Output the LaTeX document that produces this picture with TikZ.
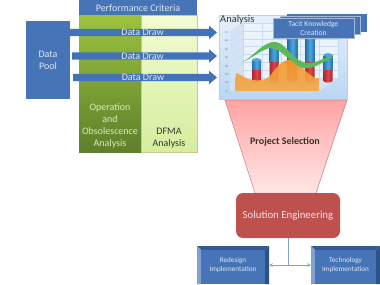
\documentclass[tikz,border=0pt]{standalone}
\usepackage{fontspec}
\setmainfont{Carlito}
\definecolor{panelblue}{HTML}{4674B6}
\definecolor{drawblue}{HTML}{4273B8}
\definecolor{ltxt}{HTML}{DDE7F5}
\definecolor{gridc}{HTML}{C9DAEE}
\definecolor{greenA}{HTML}{9CC23E}
\definecolor{greenB}{HTML}{5E7F2C}
\definecolor{limeA}{HTML}{F2FBD2}
\definecolor{limeB}{HTML}{D5EE9E}
\definecolor{limeE}{HTML}{BCCF8C}
\definecolor{opsT}{HTML}{DCEBBE}
\definecolor{panA}{HTML}{E6F0FA}
\definecolor{panB}{HTML}{BAD6F3}
\definecolor{wallA}{HTML}{D3E3F5}
\definecolor{wallB}{HTML}{EAF2FB}
\definecolor{cylA}{HTML}{2A6FA8}
\definecolor{cylB}{HTML}{4BA6DE}
\definecolor{redA}{HTML}{A82A30}
\definecolor{redB}{HTML}{E0444A}
\definecolor{oraA}{HTML}{F59A2C}
\definecolor{oraB}{HTML}{F2A84A}
\definecolor{rib}{HTML}{5DB85B}
\definecolor{funA}{HTML}{FFA3A3}
\definecolor{funB}{HTML}{FFE6E6}
\definecolor{funE}{HTML}{C98080}
\definecolor{sol}{HTML}{BE504E}
\definecolor{solT}{HTML}{F6E2E1}
\definecolor{bevT}{HTML}{345A8E}
\definecolor{bevL}{HTML}{7FA2D0}
\definecolor{bevR}{HTML}{2F5284}
\definecolor{con}{HTML}{7FA3CF}
\tikzset{
  x=1pt,y=-1pt,
  lbl/.style={font=\fontsize{10}{12}\selectfont,align=center,inner sep=0pt},
  small/.style={font=\fontsize{7.6}{9.2}\selectfont,align=center,inner sep=0pt},
  tinylab/.style={font=\fontsize{2.6}{3}\selectfont,inner sep=0pt,text=black!65},
  drawarrow/.style={fill=drawblue,draw=none},
  card/.style={fill=panelblue,draw=none},
  wallline/.style={draw=gridc,line width=.3pt},
}
\begin{document}
\begin{tikzpicture}
\useasboundingbox (0,0) rectangle (380,284);
\fill[white] (0,0) rectangle (380,284);

% Analysis columns
\path[top color=greenA,bottom color=greenB] (79,15) rectangle (141,152);
\path[top color=limeA,bottom color=limeB,draw=limeE,line width=.5pt]
  (141,15) rectangle (197,152);
\node[lbl,text=opsT] (ops) at (110,126) {Operation\\and\\Obsolescence\\Analysis};
\node[lbl,text=black!80] (dfma) at (169,138) {DFMA\\Analysis};

% Header and data source
\fill[panelblue] (79,0) rectangle (197,15);
\node[lbl,text=ltxt] (perf) at (138,8) {Performance Criteria};
\fill[panelblue] (26,21) rectangle (70,99);
\node[lbl,text=ltxt] (pool) at (48,60) {Data\\Pool};

% Chart panel
\path[top color=panA,bottom color=panB,draw=gray!40,line width=.5pt]
  (219,15) rectangle (347,99);
\fill[wallA] (230,32) -- (243,23) -- (243,78) -- (230,91) -- cycle;
\fill[wallB] (243,23) rectangle (338,78);
\fill[wallA] (230,91) -- (243,78) -- (338,78) -- (319,91) -- cycle;
\foreach \yy/\lab in {0/0,1/10,2/20,3/30,4/40,5/50,6/60,7/70}{
  \draw[wallline] (243,78-7.86*\yy) -- (338,78-7.86*\yy);
  \draw[wallline] (230,91-8.4*\yy) -- (243,78-7.86*\yy);
  \node[tinylab] at (226.5,91.5-8.4*\yy) {\lab};
}
\foreach \xx in {243,262,281,300,319,338} \draw[wallline] (\xx,23) -- (\xx,78);

% Cylinders: centre, half width, top, start of the red part
\foreach \cx/\hw/\tp/\rd in {256.5/4.5/60/70,274/4.5/47/62,292.5/4.8/38/62,310/4.5/38/62,328/4.5/55/70}{
  \path[left color=cylA,right color=cylA,middle color=cylB]
    (\cx-\hw,\tp) rectangle (\cx+\hw,\rd);
  \path[left color=redA,right color=redA,middle color=redB]
    (\cx-\hw,\rd) -- (\cx+\hw,\rd) -- (\cx+\hw,81) arc[x radius=\hw,y radius=-1.6,start angle=0,end angle=-180] -- cycle;
  \fill[cylB] (\cx,\tp) ellipse[x radius=\hw,y radius=1.8];
}

% Orange area series
\path[top color=oraA,bottom color=oraB,opacity=.92]
  (236,73) .. controls (243,75) and (246,80) .. (253,80)
  .. controls (262,81) and (265,80) .. (270,76)
  .. controls (276,68) and (282,60) .. (289,60)
  .. controls (298,60) and (304,72) .. (315,78)
  -- (319,78) -- (319,91) -- (235,91) -- cycle;

% Green ribbon series
\fill[rib]
  (242,62) .. controls (252,58) and (260,45) .. (272,42)
  .. controls (285,40) and (290,58) .. (303,62)
  .. controls (313,66) and (322,58) .. (332,56)
  -- (332,58) .. controls (322,62) and (313,70) .. (303,68)
  .. controls (292,65) and (283,50) .. (272,48)
  .. controls (262,48) and (252,59) .. (242,62) -- cycle;

\node[lbl,text=black!80,anchor=west,font=\fontsize{10.5}{12}\selectfont] (an) at (220,20) {Analysis};

% Stacked knowledge cards
\fill[card] (287,14) rectangle (367,32);
\fill[card,draw=white!50!panelblue,line width=.2pt] (280,16) rectangle (360,34);
\fill[card,draw=white!50!panelblue,line width=.2pt] (273,18) rectangle (354,38);
\node[small,text=ltxt] (tacit) at (313.5,28) {Tacit Knowledge\\Creation};

% Data draw arrows
\foreach \nm/\xs/\cy/\xl in {a/70/32.5/142.6,b/72/56/142.6,c/73/77.5/143}{
  \fill[drawarrow] (\xs,\cy-3.6) -- (209,\cy-3.6) -- (209,\cy-6.8) -- (217,\cy) -- (209,\cy+6.8) -- (209,\cy+3.6) -- (\xs,\cy+3.6) -- cycle;
  \node[lbl,text=ltxt] (draw\nm) at (\xl,\cy) {Data Draw};
}

% Selection funnel
\path[top color=funA,bottom color=funB,draw=funE,line width=.5pt]
  (225,100) -- (347,100) -- (316,193) -- (255,193) -- cycle;
\node[lbl,text=black!80,font=\fontsize{10}{12}\selectfont\bfseries] (sel) at (285,142) {Project Selection};

% Solution box
\node[fill=sol,draw=none,rounded corners=7pt,minimum width=104pt,minimum height=45pt,inner sep=0pt,
  text=solT,font=\fontsize{10.8}{12}\selectfont] (solbox) at (288,215.5) {Solution Engineering};

% Implementation boxes
\foreach \xa/\xb in {197/269,311/380}{
  \fill[bevT] (\xa,246) -- (\xb,246) -- (\xb-4,250) -- (\xa+4,250) -- cycle;
  \fill[bevL] (\xa,246) -- (\xa+4,250) -- (\xa+4,284) -- (\xa,284) -- cycle;
  \fill[bevR] (\xb,246) -- (\xb-4,250) -- (\xb-4,284) -- (\xb,284) -- cycle;
  \fill[panelblue] (\xa+4,250) rectangle (\xb-4,284);
}
\node[small,text=ltxt,font=\fontsize{7.2}{9}\selectfont] (redes) at (233,265) {Redesign\\Implementation};
\node[small,text=ltxt,font=\fontsize{7.2}{9}\selectfont] (techn) at (345.5,265) {Technology\\Implementation};

% Connectors
\coordinate (stem) at (288,265);
\coordinate (redr) at (269,265);
\coordinate (tecl) at (311,265);
\draw[con,line width=.8pt] (solbox.south) -- (stem);
\draw[con,line width=.7pt,<->,>=stealth] (redr) -- (tecl);
\end{tikzpicture}
\end{document}
